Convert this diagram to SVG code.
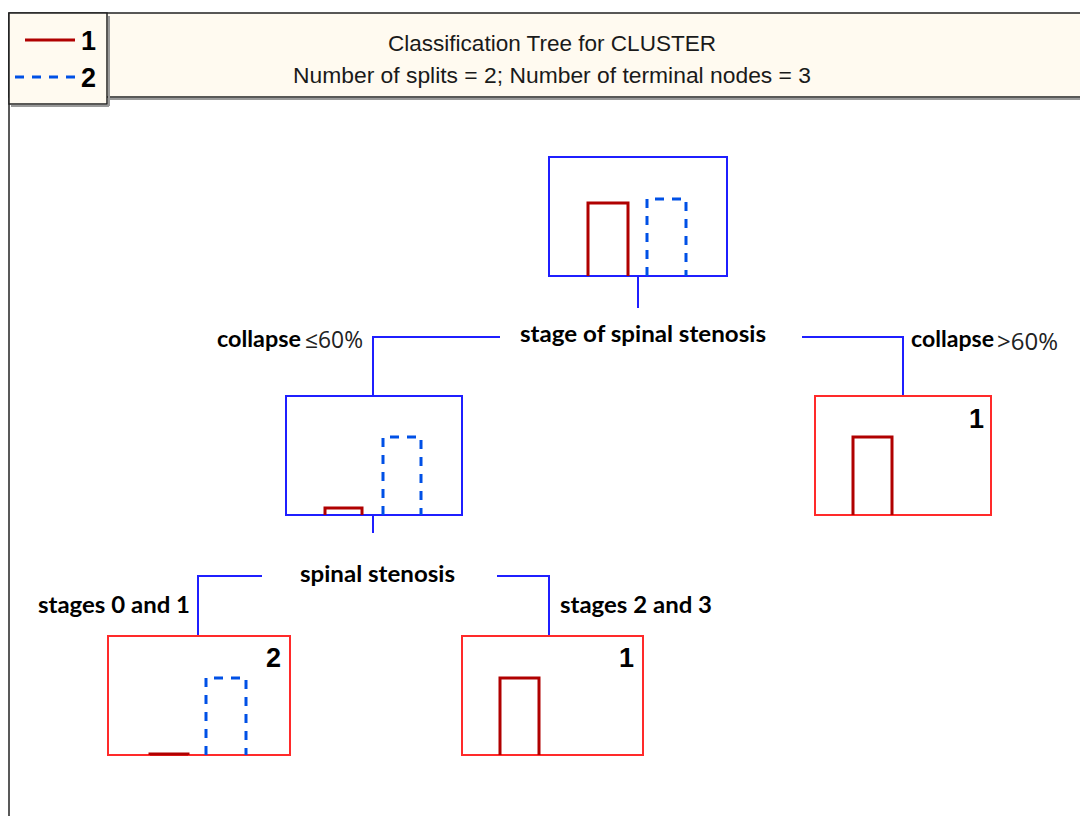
<svg xmlns="http://www.w3.org/2000/svg" width="1080" height="816" viewBox="0 0 1080 816">
<style>
.hdr{font-family:"Liberation Sans",Arial,sans-serif;font-size:22px;fill:#1a1a1a}
.lg{font-family:"Liberation Sans",Arial,sans-serif;font-size:27px;font-weight:bold;fill:#000}
.lbl{font-family:Lato,"Open Sans",sans-serif;font-size:23px;font-weight:bold;fill:#000}
.pct{font-family:"Open Sans","Liberation Sans",sans-serif;font-size:23px;font-weight:normal;fill:#222}
.num{font-family:"Liberation Sans",Arial,sans-serif;font-size:27px;font-weight:bold;fill:#000}
.bnode{fill:none;stroke:#1f1fff;stroke-width:2}
.rnode{fill:none;stroke:#ff2a2a;stroke-width:2}
.bar1{fill:none;stroke:#b00000;stroke-width:3}
.bar2{fill:none;stroke:#0050e6;stroke-width:3;stroke-dasharray:9,8}
.conn{fill:none;stroke:#1f1fff;stroke-width:2}
</style>
<rect x="0" y="0" width="1080" height="816" fill="#fff"/>
<g id="frame">
<rect x="9" y="13" width="1080" height="84" fill="#fffaf0" stroke="#222" stroke-width="1.5"/>
<line x1="110" y1="99" x2="1080" y2="99" stroke="#999" stroke-width="2"/>
<line x1="9" y1="13" x2="9" y2="816" stroke="#222" stroke-width="1.5"/>
<rect x="9" y="13" width="98" height="91" fill="#fffaf0" stroke="#222" stroke-width="1.5"/>
<line x1="109" y1="16" x2="109" y2="106" stroke="#999" stroke-width="2"/>
<line x1="11" y1="106" x2="109" y2="106" stroke="#999" stroke-width="2"/>
</g>
<g id="legend">
<line x1="25" y1="40" x2="75" y2="40" stroke="#b00000" stroke-width="3"/>
<text x="81" y="50" class="lg">1</text>
<line x1="15" y1="77" x2="77" y2="77" stroke="#0050e6" stroke-width="3" stroke-dasharray="9,8"/>
<text x="81" y="87" class="lg">2</text>
</g>
<g id="title">
<text x="552" y="51" class="hdr" text-anchor="middle" textLength="328" lengthAdjust="spacingAndGlyphs">Classification Tree for CLUSTER</text>
<text x="552" y="83" class="hdr" text-anchor="middle" textLength="518" lengthAdjust="spacingAndGlyphs">Number of splits = 2; Number of terminal nodes = 3</text>
</g>
<g id="connectors">
<line x1="638" y1="276" x2="638" y2="308" class="conn"/>
<polyline points="500,337 373,337 373,396" class="conn"/>
<polyline points="802,337 903,337 903,396" class="conn"/>
<line x1="373" y1="515" x2="373" y2="533" class="conn"/>
<polyline points="262,576 198,576 198,636" class="conn"/>
<polyline points="497,576 549,576 549,636" class="conn"/>
</g>
<g id="node-root">
<rect x="549" y="157" width="178" height="119" class="bnode"/>
<polyline points="588,276 588,203 628,203 628,276" class="bar1"/>
<polyline points="647,276 647,199 686,199 686,276" class="bar2"/>
</g>
<g id="split-root">
<text x="520" y="342" class="lbl" textLength="246" lengthAdjust="spacingAndGlyphs">stage of spinal stenosis</text>
</g>
<g id="label-left">
<text x="217" y="347" class="lbl" textLength="84" lengthAdjust="spacingAndGlyphs">collapse</text>
<text x="305" y="348" class="pct" textLength="58" lengthAdjust="spacingAndGlyphs">≤60%</text>
</g>
<g id="label-right">
<text x="911" y="347" class="lbl" textLength="83" lengthAdjust="spacingAndGlyphs">collapse</text>
<text x="997" y="350" class="pct" textLength="61" lengthAdjust="spacingAndGlyphs">&gt;60%</text>
</g>
<g id="node-left">
<rect x="286" y="396" width="176" height="119" class="bnode"/>
<polyline points="325,515 325,508 362,508 362,515" class="bar1"/>
<polyline points="383,515 383,437 421,437 421,515" class="bar2"/>
</g>
<g id="node-right">
<rect x="815" y="396" width="176" height="119" class="rnode"/>
<text x="984" y="428" class="num" text-anchor="end">1</text>
<polyline points="853,515 853,437 892,437 892,515" class="bar1"/>
</g>
<g id="split-left">
<text x="300" y="582" class="lbl" textLength="155" lengthAdjust="spacingAndGlyphs">spinal stenosis</text>
</g>
<g id="label-s01"><text x="38" y="613" class="lbl" textLength="152" lengthAdjust="spacingAndGlyphs">stages 0 and 1</text></g>
<g id="label-s23"><text x="560" y="613" class="lbl" textLength="152" lengthAdjust="spacingAndGlyphs">stages 2 and 3</text></g>
<g id="leaf-2">
<rect x="108" y="636" width="182" height="119" class="rnode"/>
<text x="281" y="667" class="num" text-anchor="end">2</text>
<polyline points="150,755 150,754 188,754 188,755" class="bar1"/>
<polyline points="206,755 206,678 246,678 246,755" class="bar2"/>
</g>
<g id="leaf-1">
<rect x="462" y="636" width="181" height="119" class="rnode"/>
<text x="634" y="667" class="num" text-anchor="end">1</text>
<polyline points="500,755 500,678 539,678 539,755" class="bar1"/>
</g>
</svg>
